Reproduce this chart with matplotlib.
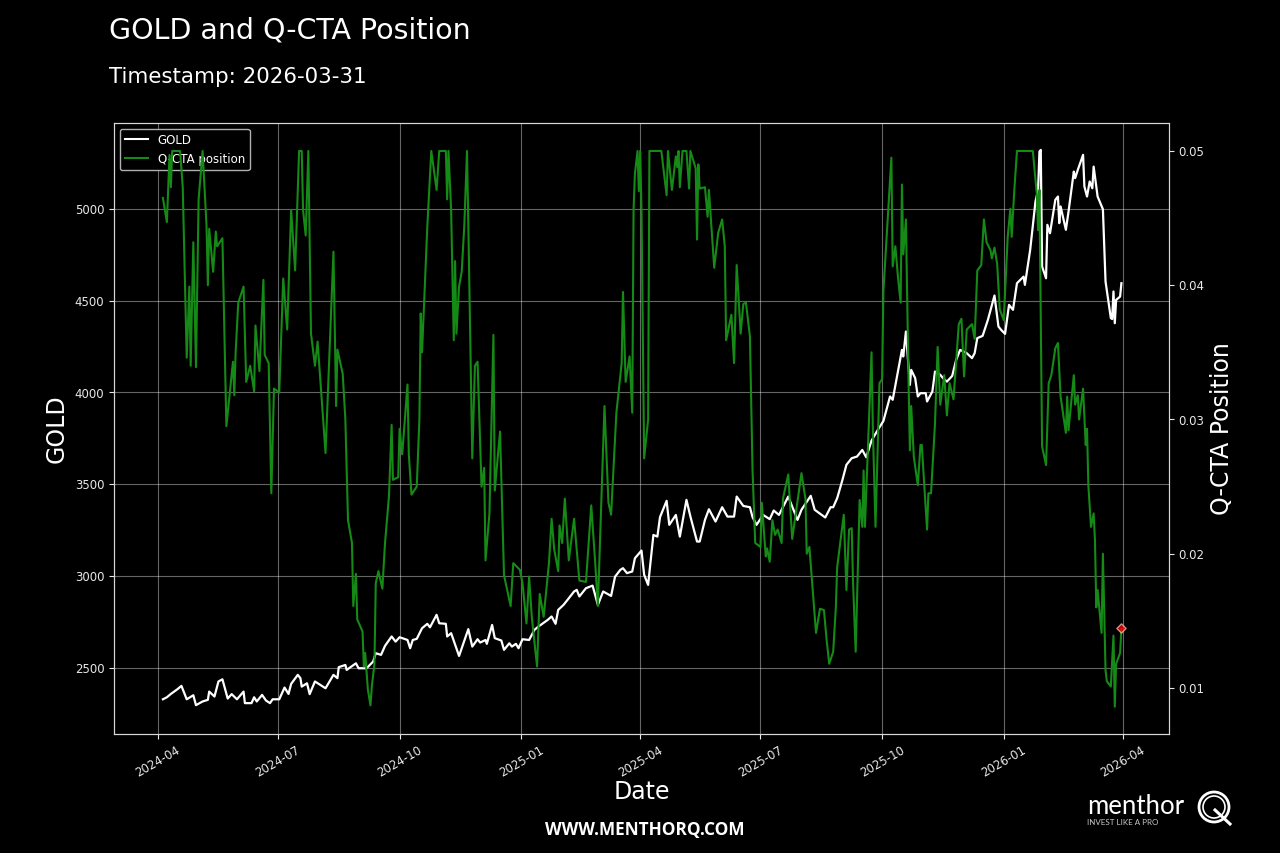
import matplotlib
matplotlib.use("Agg")
import matplotlib.pyplot as plt
import matplotlib.dates as mdates
from matplotlib.lines import Line2D
from matplotlib.patches import Circle
from matplotlib.transforms import IdentityTransform
import pandas as pd

start = pd.Timestamp("2024-04-01")
timestamp = "2026-03-31"

# days counted from 2024-04-01
gold_days = [4, 7, 10, 15, 18, 22, 27, 29, 34, 38, 39, 43, 46, 49, 53, 56, 60, 65, 66, 71, 73, 75, 79, 82, 85, 87,
             92, 96, 99, 101, 106, 108, 109, 113, 115, 119, 127, 133, 136, 137, 142, 143, 150, 152, 158, 163, 165,
             169, 172, 177, 180, 183, 189, 191, 193, 196, 200, 204, 206, 211, 213, 218, 219, 222, 228, 235, 238,
             242, 244, 248, 249, 253, 255, 260, 262, 266, 268, 271, 273, 276, 281, 285, 288, 295,
             298, 301, 303, 307, 310, 315, 317, 319, 324, 329, 333, 337, 343, 346, 350, 352, 355, 359, 361, 366,
             368, 371, 375, 378, 380, 385, 387, 392, 395, 400, 403, 408, 410, 414, 417, 422, 427, 431, 436, 438,
             443, 448, 450, 453, 458, 463, 466, 470, 477, 484, 487, 494, 497, 505, 509, 511, 514, 518, 521, 525,
             529, 533, 536, 540, 544, 549,
             554, 556, 563, 564, 566, 569, 570, 573, 575, 577, 581, 582, 586, 588, 592, 594, 597, 601, 604, 607,
             612, 616, 618, 620, 624, 628, 633, 636, 638, 641, 644, 647, 650, 655, 656, 660, 664, 666, 667, 668,
             669, 672, 673, 675, 679, 681, 682, 683, 687, 689, 693, 694, 696, 700, 701, 703, 705, 707, 708, 711,
             715, 717, 721, 722, 723, 724, 725, 728, 729]
gold_values = [2329, 2340, 2358, 2384, 2402, 2329, 2351, 2297, 2317, 2326, 2371, 2344, 2426, 2438, 2333, 2357, 2329,
               2371, 2308, 2308, 2340, 2317, 2353, 2322, 2308, 2329,
               2329, 2393, 2358, 2413, 2462, 2444, 2398, 2416, 2357, 2426, 2389, 2462, 2444, 2504, 2516, 2489, 2525,
               2498, 2498, 2534, 2580,
               2571, 2620, 2671, 2643, 2667, 2652, 2607, 2652, 2658, 2716, 2740, 2721, 2789, 2743, 2740, 2671, 2689,
               2565, 2711, 2616,
               2656, 2638, 2652, 2631, 2734, 2662, 2649, 2598, 2634, 2616, 2631, 2607, 2656, 2652, 2707, 2725, 2761,
               2780, 2740, 2816, 2843, 2870, 2916, 2925, 2889, 2934, 2948, 2843, 2916, 2892, 2997, 3034, 3043, 3016,
               3025, 3097, 3139,
               3007, 2952, 3224, 3215, 3321, 3410, 3279, 3333, 3215, 3415, 3324, 3188, 3188, 3306, 3364, 3297, 3375,
               3324, 3324, 3433,
               3382, 3375, 3321, 3279, 3333, 3310, 3357, 3333, 3433, 3306, 3361, 3437, 3361, 3319, 3375, 3375, 3424,
               3524, 3606, 3642,
               3651, 3687, 3647, 3738, 3787, 3845,
               3978, 3960, 4232, 4196, 4332, 4041, 4123, 4078, 3978, 3996, 3996, 3951, 4005, 4114, 4096, 4078, 4059,
               4090, 4177, 4232,
               4214, 4187, 4214, 4296, 4308, 4395, 4528, 4359, 4341, 4319, 4477, 4450, 4595, 4631, 4586, 4777, 5040,
               5104, 5312, 5321,
               4686, 4622, 4913, 4867, 5049, 5067, 4922, 5013, 4886, 4985, 5203, 5167, 5212, 5294, 5122, 5067, 5149,
               5112, 5230, 5067,
               4998, 4604, 4405, 4400, 4550, 4377, 4504, 4522, 4595]

position_days = [4, 7, 9, 10, 11, 17, 19, 22, 24, 25, 27, 29, 31, 34, 37, 38, 39, 42, 44, 45, 49, 52, 57, 58, 59, 61,
                 65, 67, 70, 73, 74, 77, 80, 81, 84, 86, 88, 92, 95, 98, 101, 104, 107, 109, 110, 112, 114, 116, 119,
                 121, 127, 133, 135, 136, 140, 142, 144, 147, 148, 150, 151, 155, 156, 157, 159, 161, 162, 164, 165,
                 167, 170, 172, 175, 177, 178, 182, 183, 185, 189, 190, 192, 196, 198, 199, 200, 204, 207, 211, 213,
                 218, 219, 220, 222, 224, 225, 226, 228, 230, 232, 234, 235, 237, 238, 240, 242, 245, 247, 248, 251,
                 254, 255, 259, 260, 262, 267, 269, 274, 276, 279, 281, 283, 287, 289, 292, 296, 298, 300, 303, 304,
                 306, 308, 311, 315, 319, 324, 328, 331, 333, 336, 338, 341, 343, 347, 351, 352, 354, 357, 359, 360,
                 361, 363, 364, 365, 366, 368, 371, 372, 381, 385, 386, 389, 392, 393, 394, 395, 397, 400, 402, 403,
                 407, 408, 409, 410, 414, 416, 417, 421, 424, 427, 429, 430, 434, 436, 438, 441, 443, 445, 448, 450,
                 452, 456, 457, 460, 461, 463, 465, 467, 469, 472, 473, 477, 480, 487, 490, 491, 493, 498, 501, 504,
                 506, 508, 511, 513, 514, 519, 521, 523, 525, 526, 528, 531, 533, 534, 535, 540, 541, 543, 546, 548,
                 549, 555, 556, 558, 560, 562, 563, 564, 566, 568, 569, 570, 572, 575, 577, 578, 582, 583, 585, 588,
                 590, 592, 595, 597, 599, 602, 606, 608, 610, 612, 616, 618, 620, 623, 625, 627, 630, 631, 633, 635,
                 637, 640, 643, 645, 646, 648, 650, 662, 665, 666, 667, 669, 672, 674, 676, 679, 681, 683, 687, 688,
                 689, 693, 694, 696, 697, 700, 702, 703, 704, 706, 708, 709, 710, 711, 714, 715, 717, 718, 721, 723,
                 724, 725, 728, 729]
position_values = [.0465, .0447, .0497, .0473, .05, .05, .0473, .0346, .0399, .034, .0432, .0339, .0464, .05, .0444,
                   .04, .0442, .041, .044, .0429, .0435, .0295, .0343, .0318, .035, .0387,
                   .0399, .0328, .034, .0321, .037, .0336, .0404, .0348, .0342, .0245, .0323, .032, .0405, .0367,
                   .0456, .0411, .05, .05, .0456, .0437, .05, .0364, .034,
                   .0358, .0275, .0425, .031, .0352, .0334, .03, .0225, .0208, .0161, .0185, .0151, .0142, .0116,
                   .0126, .0099, .0087, .0101, .0118, .0178,
                   .0187, .0174, .0208, .0243, .0296, .0255, .0257, .0293, .0274, .0326, .0274, .0244, .025, .03,
                   .0379, .035, .0444, .05, .0471, .05,
                   .05, .0464, .05, .0456, .0359, .0418, .0364, .0399, .041, .0445, .05, .0446, .0332, .0271, .034,
                   .0343, .025, .0264, .0195, .023,
                   .0363, .0247, .0291, .0255, .0184, .0161, .0193, .0188, .0178, .0148, .0183, .0153, .0116, .017,
                   .0153, .0193, .0226, .0203, .0187, .0221,
                   .0208, .0241, .0195, .0226, .018, .0179, .0236, .0193, .0161, .025, .031, .0238, .0229, .0305,
                   .0342, .0395, .0328, .0347, .0305, .0456,
                   .0483, .05, .047, .05, .0456, .0271, .03, .05, .05, .0467, .05, .0471, .0496, .0488, .05, .0473,
                   .05, .05, .0472, .05,
                   .0487, .0434, .049, .0472, .0473, .0451, .0471, .0413, .0439, .0449, .0429, .0359, .0378, .0342,
                   .0415, .0364, .0386, .0387, .0362, .0262,
                   .0208, .0205, .0238, .0198, .0204, .0194, .0225, .0214, .0218, .0208, .0241, .0259, .0211, .026,
                   .0241, .02, .0205, .0141, .0159, .0158,
                   .0136, .0118, .0127, .016, .019, .0229, .0173, .0218, .0219, .0179, .0127, .024, .022, .0262, .022,
                   .035, .0293, .022, .0327, .033,
                   .0396, .0495, .0414, .0429, .0406, .0387, .0475, .0423, .0449, .0329, .0277, .031, .0272, .0251,
                   .0281, .0281, .0218, .0245, .0245, .0297,
                   .0354, .0311, .0333, .0303, .0327, .0315, .0371, .0375, .0332, .0367, .0371, .036, .0411, .0415,
                   .0449, .0432, .0426, .042, .0428, .0416,
                   .0382, .0374, .0436, .0457, .0436, .0471, .05, .05, .0468, .0441, .0471, .028, .0266, .0327, .0333,
                   .0353, .0357, .0317, .029, .0317,
                   .0292, .0333, .0311, .0318, .03, .0323, .0281, .0293, .0251, .022, .023, .021, .016, .0173, .0141,
                   .02, .0113, .0105, .0101, .0139,
                   .0086, .0118, .0126, .0144]
last_position = 0.0145

gold_dates = start + pd.to_timedelta(gold_days, unit="D")
position_dates = start + pd.to_timedelta(position_days, unit="D")

plt.style.use("dark_background")
fig = plt.figure(figsize=(12.8, 8.531), dpi=100)
fig.patch.set_facecolor("black")
ax1 = fig.add_axes([114 / 1280, 119 / 853, 1055 / 1280, 611 / 853])
ax2 = ax1.twinx()

ax1.plot(gold_dates, gold_values, color="white", lw=1.6)
ax2.plot(position_dates, position_values, color="#168a16", lw=1.5)
ax2.scatter(gold_dates[-1], last_position, marker="D", s=22, color="red", edgecolor="#f0c0b8", linewidth=1, alpha=0.75,
            zorder=5)

ax1.set_xlim(pd.Timestamp("2024-02-28"), pd.Timestamp("2026-05-06"))
ax1.set_ylim(2140, 5468)
ax2.set_ylim(0.00657, 0.05209)
ax1.set_yticks([2500, 3000, 3500, 4000, 4500, 5000])
ax2.set_yticks([0.01, 0.02, 0.03, 0.04, 0.05])
ax1.xaxis.set_major_locator(mdates.MonthLocator(bymonth=(1, 4, 7, 10)))
ax1.xaxis.set_major_formatter(mdates.DateFormatter("%Y-%m"))
ax1.grid(True, color="white", alpha=0.4, lw=0.8)
for label in ax1.get_xticklabels():
    label.set_rotation(30)
    label.set_ha("center")
ax1.tick_params(labelsize=8.5, colors="#e8e8e8")
ax2.tick_params(labelsize=8.5, colors="#e8e8e8")
for ax in (ax1, ax2):
    for spine in ax.spines.values():
        spine.set_color("#d8d8d8")

ax1.set_xlabel("Date", fontsize=17, labelpad=0)
ax1.set_ylabel("GOLD", fontsize=17, labelpad=4)
ax2.set_ylabel("Q-CTA Position", fontsize=17, labelpad=4)

handles = [Line2D([], [], color="white", lw=1.5), Line2D([], [], color="#168a16", lw=1.5)]
ax1.legend(handles, ["GOLD", "Q-CTA position"], loc="upper left", fontsize=8.5, facecolor="black", edgecolor="#b0b0b0",
           framealpha=1)

fig.text(109 / 1280, 1 - 30 / 853, "GOLD and Q-CTA Position", fontsize=20.5, va="center", color="white")
fig.text(109 / 1280, 1 - 77 / 853, "Timestamp: " + timestamp, fontsize=15.4, va="center", color="white")
fig.text(644.5 / 1280, 1 - 830 / 853, "WWW.MENTHORQ.COM", fontsize=12.4, fontweight="bold", family="Open Sans",
         ha="center", va="center", color="white")

# logo, drawn by hand in pixels
fig.text(1087 / 1280, 1 - 806 / 853, "menthor", fontsize=18.5, family="Lato", va="center", color="white")
fig.text(1087 / 1280, 1 - 822 / 853, "INVEST LIKE A PRO", fontsize=5.8, family="Lato", va="center", color="#c8c8c8")
px = IdentityTransform()
for radius, width in ((15, 2), (11, 1.2)):
    fig.add_artist(Circle((1214, 853 - 807), radius, fill=False, edgecolor="white", lw=width, transform=px))
fig.add_artist(Line2D([1215, 1230], [853 - 810, 853 - 824], color="white", lw=2.2, transform=px))

fig.savefig("out.png", dpi=100, facecolor="black")
